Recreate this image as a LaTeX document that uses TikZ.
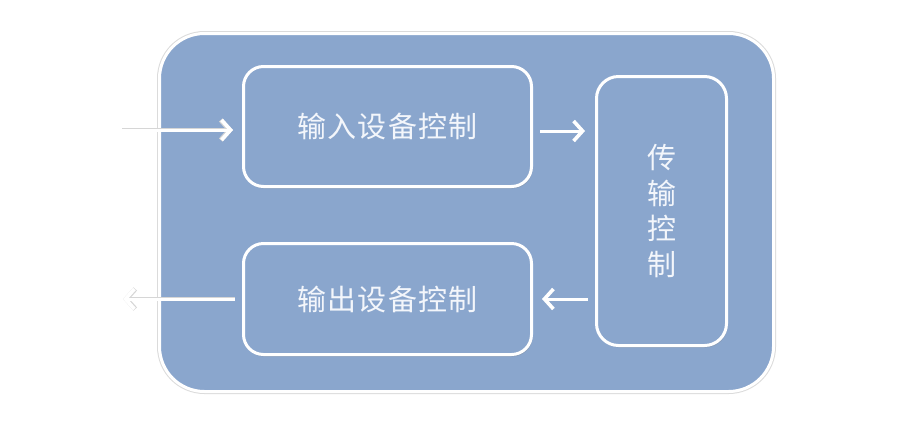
\documentclass[tikz,border=0pt]{standalone}
\usepackage{fontspec}
\newfontfamily\cjk[LetterSpace=4]{Noto Sans CJK SC}
\newfontfamily\cjkv{Noto Sans CJK SC}
\usetikzlibrary{arrows.meta,shadows,calc}
\definecolor{boxblue}{HTML}{8AA6CD}
\definecolor{txtwhite}{HTML}{F3F6FB}
\begin{document}
\begin{tikzpicture}[x=1pt,y=-1pt,
  container/.style={draw=white,line width=3pt,fill=boxblue,rounded corners=45pt,
    minimum width=614pt,minimum height=358pt,
    preaction={draw=black!14,line width=5pt}},
  block/.style={draw=white,line width=3pt,fill=boxblue,rounded corners=20pt,
    inner sep=0pt,align=center,text=txtwhite,
    font=\cjk\fontsize{29}{35.5}\selectfont,
    drop shadow={shadow xshift=1pt,shadow yshift=-2pt,opacity=0.3}},
  arr/.style={draw=white,line width=3pt,
    -{Straight Barb[length=9pt,width=20pt,line width=3.6pt]}},
  arrshadow/.style={draw=black!16,line width=4.2pt,
    -{Straight Barb[length=9pt,width=20pt,line width=4.8pt]}}
]
\useasboundingbox (0,0) rectangle (915,424);
\fill[white] (0,0) rectangle (915,424);

\node[container] (outer) at (466.5,212.5) {};

\node[block,minimum width=288pt,minimum height=120pt] (in) at (387.5,126.5) {输入设备控制};
\node[block,minimum width=288pt,minimum height=111pt] (out) at (387.5,299) {输出设备控制};
\node[block,minimum width=130pt,minimum height=269pt,rounded corners=22pt,
  font=\cjkv\fontsize{29}{35.5}\selectfont] (trans) at (661.5,211) {传\\输\\控\\制};

\coordinate (src) at (122,130);
\coordinate (dst) at (123,299);
\coordinate (m1) at (0,131);
\coordinate (m2) at (0,299);

% input arrow
\draw[arrshadow,shorten >=9pt] (src) -- (src -| in.west);
\draw[arr,shorten >=9pt] (src) -- (src -| in.west);
% in -> trans
\draw[arr,shorten <=7pt,shorten >=10pt] (in.east |- m1) -- (trans.west |- m1);
% trans -> out
\draw[arr,shorten <=7pt,shorten >=9pt] (trans.west |- m2) -- (out.east |- m2);
% output arrow
\draw[arrshadow,shorten <=7pt] (out.west |- m2) -- (dst);
\draw[arr,shorten <=7pt] (out.west |- m2) -- (dst);
\end{tikzpicture}
\end{document}
